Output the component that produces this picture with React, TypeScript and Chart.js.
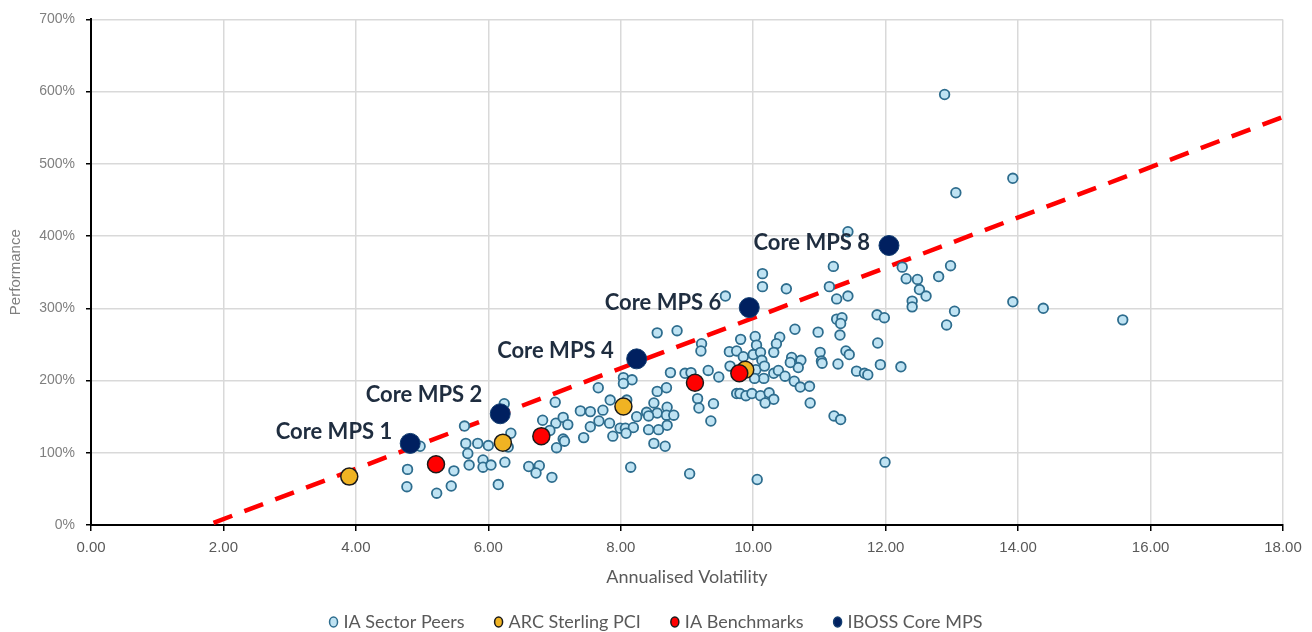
import React, { useEffect, useRef } from 'react';
import { Chart, registerables } from 'chart.js';

Chart.register(...registerables);

// ---------------- DATA ----------------
const seriesNames = ['IA Sector Peers', 'ARC Sterling PCI', 'IA Benchmarks', 'IBOSS Core MPS'];
const xAxisTitle = 'Annualised Volatility';
const yAxisTitle = 'Performance';

const peerVol = [
  4.78, 4.77, 4.97, 5.22, 5.44, 5.48, 5.64, 5.66, 5.84, 6.00,
  5.69, 5.71, 5.92, 5.92, 6.04, 6.15, 6.25, 6.24, 6.34, 6.30,
  6.61, 6.77, 6.72, 6.96, 7.01, 6.82, 7.02, 7.13, 7.20, 6.93,
  7.13, 7.15, 7.03, 7.44, 7.39, 7.54, 7.73, 7.66, 7.54, 7.67,
  7.83, 7.84, 7.88, 7.99, 8.07, 8.19, 8.08, 8.24, 8.04, 8.17,
  8.04, 8.09, 8.15, 8.55, 8.85, 9.22, 9.21, 8.75, 8.97, 9.06,
  9.32, 9.48, 9.64, 9.75, 9.85, 9.81, 9.65, 8.55, 8.69, 8.50,
  8.39, 8.55, 8.70, 8.69, 8.80, 8.42, 8.42, 8.57, 8.70, 8.50,
  8.67, 9.16, 9.18, 9.40, 9.36, 9.04, 9.75, 9.80, 9.89, 9.98,
  10.11, 10.24, 10.31, 10.18, 11.21, 10.14, 10.14, 10.50, 11.15, 9.58,
  11.26, 11.43, 10.63, 10.98, 11.26, 11.34, 11.32, 11.31, 10.03, 10.05,
  10.40, 10.35, 10.31, 10.00, 10.11, 10.13, 10.04, 10.17, 10.16, 10.02,
  10.31, 10.38, 10.48, 10.58, 10.72, 10.68, 10.56, 11.01, 11.03, 11.04,
  11.28, 10.62, 10.71, 10.85, 10.86, 11.22, 11.32, 10.06, 11.40, 11.45,
  11.56, 11.68, 11.73, 11.87, 11.98, 11.88, 11.92, 12.23, 11.99, 11.43,
  12.25, 12.31, 12.48, 12.51, 12.61, 12.40, 12.40, 12.80, 12.98, 13.04,
  12.92, 12.89, 13.06, 13.92, 13.92, 14.38, 15.58
];
const peerPerf = [
  77, 53, 109, 44, 54, 75, 137, 113, 113, 110,
  99, 83, 90, 80, 83, 56, 87, 168, 127, 108,
  81, 82, 72, 66, 170, 145, 141, 149, 139, 131,
  119, 116, 107, 121, 158, 157, 159, 190, 136, 144,
  141, 173, 123, 134, 134, 135, 127, 150, 204, 201,
  196, 173, 80, 266, 269, 251, 241, 211, 210, 211,
  214, 205, 240, 241, 233, 257, 220, 185, 190, 169,
  156, 155, 163, 152, 152, 151, 132, 132, 138, 113,
  109, 175, 162, 168, 144, 71, 182, 182, 179, 182,
  179, 183, 174, 169, 358, 348, 330, 327, 330, 317,
  313, 317, 271, 267, 285, 287, 279, 263, 261, 249,
  260, 251, 239, 236, 239, 228, 215, 220, 203, 203,
  210, 214, 206, 232, 228, 218, 225, 239, 227, 224,
  223, 199, 191, 192, 169, 151, 146, 63, 241, 236,
  213, 210, 208, 291, 287, 252, 222, 219, 87, 406,
  357, 341, 340, 326, 317, 310, 302, 344, 359, 296,
  277, 596, 460, 480, 309, 300, 284
];

const arcVol = [3.90, 6.22, 8.04, 9.88];
const arcPerf = [67, 114, 164, 215];

const benchVol = [5.21, 6.80, 9.12, 9.79];
const benchPerf = [84, 123, 197, 210];

const mpsVol = [4.82, 6.18, 8.24, 9.94, 12.05];
const mpsPerf = [113, 154, 230, 301, 387];
const mpsLabels = ['Core MPS 1', 'Core MPS 2', 'Core MPS 4', 'Core MPS 6', 'Core MPS 8'];

const trendVol = [1.85, 18];
const trendPerf = [3, 565];

// label placement (style only: pixel offsets from each point)
const labelOffsets = [[-18, -11], [-18, -19], [-23, -8], [-28, -5], [-19, -3]];

const toPoints = (xs: number[], ys: number[]) => xs.map((x, i) => ({ x, y: ys[i] }));

const labelPlugin = {
  id: 'mpsLabels',
  afterDatasetsDraw(chart: any) {
    const meta = chart.getDatasetMeta(0);
    const ctx = chart.ctx;
    ctx.save();
    ctx.font = 'bold 22px Lato';
    ctx.fillStyle = '#1F2D3F';
    ctx.textAlign = 'right';
    ctx.textBaseline = 'middle';
    meta.data.forEach((el: any, i: number) => {
      const [dx, dy] = labelOffsets[i];
      ctx.fillText(mpsLabels[i], el.x + dx, el.y + dy);
    });
    ctx.restore();
  },
};

const legendPlugin = {
  id: 'customLegend',
  afterDraw(chart: any) {
    const ctx = chart.ctx;
    const order = [3, 2, 1, 0];
    ctx.save();
    ctx.font = '18px Lato';
    const gap = 30;
    const markerW = 8;
    const textGap = 6;
    const widths = order.map((i) => markerW + textGap + ctx.measureText(chart.data.datasets[i].label).width);
    const total = widths.reduce((a, b) => a + b, 0) + gap * (order.length - 1);
    let x = chart.width / 2 - total / 2;
    const y = 622;
    order.forEach((di, k) => {
      const ds = chart.data.datasets[di];
      ctx.beginPath();
      ctx.ellipse(x + markerW / 2, y, 4, 5, 0, 0, Math.PI * 2);
      ctx.fillStyle = ds.backgroundColor;
      ctx.fill();
      ctx.lineWidth = 1.5;
      ctx.strokeStyle = ds.borderColor;
      ctx.stroke();
      ctx.fillStyle = '#595959';
      ctx.textAlign = 'left';
      ctx.textBaseline = 'middle';
      ctx.fillText(ds.label, x + markerW + textGap, y);
      x += widths[k] + gap;
    });
    ctx.restore();
  },
};

export default function App() {
  const ref = useRef<HTMLCanvasElement | null>(null);

  useEffect(() => {
    if (!ref.current) return;
    const chart = new Chart(ref.current, {
      type: 'scatter',
      data: {
        datasets: [
          {
            label: seriesNames[3],
            data: toPoints(mpsVol, mpsPerf),
            backgroundColor: '#002060',
            borderColor: '#123D70',
            borderWidth: 1,
            pointRadius: 10,
          },
          {
            label: seriesNames[2],
            data: toPoints(benchVol, benchPerf),
            backgroundColor: '#FF0000',
            borderColor: '#1A1A1A',
            borderWidth: 1.5,
            pointRadius: 8.5,
          },
          {
            label: seriesNames[1],
            data: toPoints(arcVol, arcPerf),
            backgroundColor: '#F0B323',
            borderColor: '#1A1A1A',
            borderWidth: 1.5,
            pointRadius: 8.5,
          },
          {
            label: seriesNames[0],
            data: toPoints(peerVol, peerPerf),
            backgroundColor: '#BFE3F3',
            borderColor: '#2E6D8E',
            borderWidth: 1.8,
            pointRadius: 4.8,
          },
          {
            label: 'Trend',
            data: toPoints(trendVol, trendPerf),
            showLine: true,
            borderColor: '#FF0000',
            backgroundColor: '#FF0000',
            borderWidth: 4.5,
            borderDash: [20, 13],
            pointRadius: 0,
            fill: false,
          } as any,
        ],
      },
      options: {
        animation: false,
        responsive: false,
        events: [],
        layout: { padding: { top: 17, right: 29, bottom: 0, left: 0 } },
        plugins: {
          legend: { display: false },
          tooltip: { enabled: false },
        },
        scales: {
          x: {
            type: 'linear',
            min: 0,
            max: 18,
            afterFit: (s: any) => { s.height = 107; },
            ticks: {
              stepSize: 2,
              callback: (v: any) => Number(v).toFixed(2),
              color: '#595959',
              font: { family: "'Liberation Sans Narrow', 'Liberation Sans', sans-serif", size: 15 },
              padding: 8,
            },
            grid: { color: '#D9D9D9', lineWidth: 1.5, tickColor: '#000000', tickLength: 6, drawTicks: true },
            border: { color: '#000000', width: 2 },
            title: {
              display: true,
              text: xAxisTitle,
              color: '#595959',
              font: { family: 'Lato', size: 18 },
              padding: { top: 0, bottom: 44 },
            },
          },
          y: {
            type: 'linear',
            min: 0,
            max: 700,
            afterFit: (s: any) => { s.width = 91; },
            ticks: {
              stepSize: 100,
              callback: (v: any) => `${v}%`,
              color: '#7F7F7F',
              font: { family: "'Liberation Sans', Arial, sans-serif", size: 14 },
              padding: 11,
            },
            grid: { color: '#D9D9D9', lineWidth: 1.5, tickColor: '#000000', tickLength: 5, drawTicks: true },
            border: { color: '#000000', width: 2 },
            title: {
              display: true,
              text: yAxisTitle,
              color: '#7F7F7F',
              font: { family: "'Liberation Sans', Arial, sans-serif", size: 15 },
              padding: { top: 7, bottom: 0 },
            },
          },
        },
      },
      plugins: [labelPlugin, legendPlugin],
    });
    return () => chart.destroy();
  }, []);

  return (
    <div style={{ position: 'absolute', left: 0, top: 0, width: 1312, height: 632, background: '#FFFFFF' }}>
      <canvas ref={ref} width={1312} height={632} style={{ display: 'block' }} />
    </div>
  );
}
